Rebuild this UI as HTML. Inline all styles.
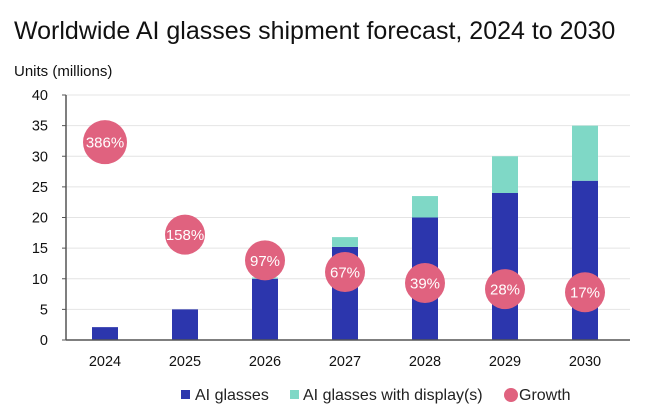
<!DOCTYPE html>
<html><head><meta charset="utf-8"><style>
body{margin:0;background:#fff;width:657px;height:410px;overflow:hidden;font-family:"Liberation Sans",sans-serif}
</style></head><body>
<svg id="chart" width="657" height="410">
<text x="14" y="39" font-size="25" fill="#111">Worldwide AI glasses shipment forecast, 2024 to 2030</text>
<text x="14" y="76" font-size="15" fill="#111">Units (millions)</text>
<g id="grid"></g><g id="bars"></g><g id="bubbles"></g><g id="axes"></g>
<g>
<rect x="181" y="390" width="9" height="9" fill="#2c36ad"/>
<text x="195" y="400" font-size="16" fill="#222">AI glasses</text>
<rect x="290" y="390" width="9" height="9" fill="#7fd8c6"/>
<text x="303" y="400" font-size="16" fill="#222">AI glasses with display(s)</text>
<circle cx="511" cy="395" r="7" fill="#e0627f"/>
<text x="519" y="400" font-size="16" fill="#222">Growth</text>
</g>
</svg>
<script>
const years=["2024","2025","2026","2027","2028","2029","2030"];
const aiGlasses=[2.1,5,10,15.2,20,24,26];
const withDisplay=[0,0,0.2,1.6,3.5,6,9];
const growthLabels=["386%","158%","97%","67%","39%","28%","17%"];
const growthPos=[32.3,17.2,13,11.1,9.3,8.3,7.8];
const yTicks=[0,5,10,15,20,25,30,35,40];
const NS="http://www.w3.org/2000/svg";
const y=v=>340-v*(245/40);
const x=i=>105+i*80;
function mk(tag,attrs,parent){const e=document.createElementNS(NS,tag);for(const k in attrs)e.setAttribute(k,attrs[k]);document.getElementById(parent).appendChild(e);return e;}
yTicks.forEach(t=>{
 if(t>0){const g=mk('line',{x1:66,x2:630,y1:y(t),y2:y(t),stroke:'#e4e4e4','stroke-width':1},'grid');
 
 }
 const tk=mk('line',{x1:62,x2:66,y1:y(t),y2:y(t),stroke:'#555'},'axes');
 
 
 const l=mk('text',{x:48,y:y(t)+5,'font-size':14.5,'text-anchor':'end',fill:'#111'},'axes');l.textContent=t;
 
 
});
const ax=mk('line',{x1:66,x2:66,y1:y(40),y2:340,stroke:'#555','stroke-width':1.5},'axes');


const bx=mk('line',{x1:66,x2:630,y1:340,y2:340,stroke:'#555','stroke-width':1.5},'axes');


years.forEach((yr,i)=>{
 const b=mk('rect',{x:x(i)-13,width:26,y:y(aiGlasses[i]),height:340-y(aiGlasses[i]),fill:'#2c36ad'},'bars');
 
 
 if(withDisplay[i]>0){const d=mk('rect',{x:x(i)-13,width:26,y:y(aiGlasses[i]+withDisplay[i]),height:y(aiGlasses[i])-y(aiGlasses[i]+withDisplay[i]),fill:'#7fd8c6'},'bars');
 
 }
 const l=mk('text',{x:x(i),y:366,'font-size':14.5,'text-anchor':'middle',fill:'#111'},'axes');l.textContent=yr;
 
 
 const c=mk('circle',{cx:x(i),cy:y(growthPos[i]),r:i==0?22:20,fill:'#e0627f'},'bubbles');
 
 
 const t=mk('text',{x:x(i),y:y(growthPos[i])+5.5,'font-size':15,'text-anchor':'middle',fill:'#fff'},'bubbles');t.textContent=growthLabels[i];
 
 
});
</script>
</body></html>
